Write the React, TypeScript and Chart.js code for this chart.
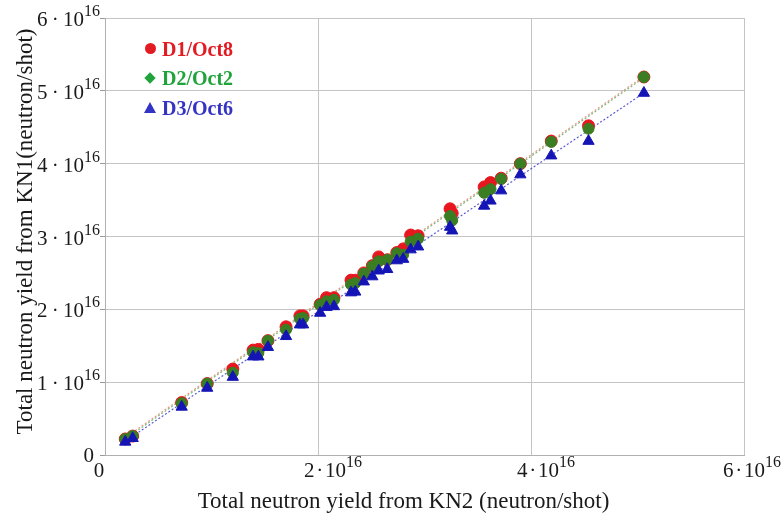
import React, { useEffect, useRef } from "react";
import { Chart, registerables } from "chart.js";

Chart.register(...registerables);

// Values in units of 10^16 neutrons/shot
const xKN2 = [0.19, 0.26, 0.72, 0.96, 1.2, 1.39, 1.44, 1.53, 1.7, 1.83, 1.86, 2.02, 2.08, 2.15, 2.31, 2.35, 2.43, 2.51, 2.57, 2.65, 2.74, 2.8, 2.87, 2.94, 3.24, 3.26, 3.56, 3.62, 3.72, 3.9, 4.19, 4.54, 5.06];
const yD1 = [0.22, 0.26, 0.72, 0.98, 1.18, 1.44, 1.45, 1.57, 1.76, 1.91, 1.91, 2.07, 2.16, 2.16, 2.4, 2.4, 2.5, 2.6, 2.72, 2.68, 2.78, 2.83, 3.02, 3.01, 3.38, 3.32, 3.68, 3.74, 3.8, 4.0, 4.31, 4.52, 5.19];
const yD2 = [0.22, 0.26, 0.71, 0.98, 1.13, 1.41, 1.4, 1.57, 1.72, 1.87, 1.88, 2.06, 2.11, 2.13, 2.34, 2.36, 2.49, 2.59, 2.66, 2.68, 2.77, 2.75, 2.93, 2.97, 3.28, 3.22, 3.6, 3.65, 3.79, 4.0, 4.3, 4.48, 5.19];
const yD3 = [0.18, 0.23, 0.66, 0.92, 1.07, 1.35, 1.35, 1.48, 1.63, 1.79, 1.79, 1.95, 2.03, 2.04, 2.23, 2.24, 2.38, 2.45, 2.53, 2.55, 2.67, 2.69, 2.82, 2.86, 3.13, 3.08, 3.42, 3.49, 3.63, 3.85, 4.11, 4.31, 4.97];

// Linear-fit lines (end points)
const fitX = [0.19, 5.06];
const fitD1 = [0.24, 5.2];
const fitD2 = [0.22, 5.18];
const fitD3 = [0.19, 4.97];

const xTicks = [0, 2, 4, 6];
const yTicks = [0, 1, 2, 3, 4, 5, 6];
const EXP = "16";
const seriesNames = ["D1/Oct8", "D2/Oct2", "D3/Oct6"];
const xTitle = "Total neutron yield from KN2 (neutron/shot)";
const yTitle = "Total neutron yield from KN1(neutron/shot)";

const SERIF = "'Liberation Serif', 'Times New Roman', serif";

const pts = (xs: number[], ys: number[]) => xs.map((x, i) => ({ x, y: ys[i] }));

const labelPlugin = {
  id: "mathLabels",
  afterDraw(chart: any) {
    const ctx = chart.ctx as CanvasRenderingContext2D;
    const xs = chart.scales.x;
    const ys = chart.scales.y;
    const base = `21px ${SERIF}`;
    const sup = `16px ${SERIF}`;
    const title = `23px ${SERIF}`;
    ctx.save();
    ctx.fillStyle = "#1a1a1a";
    ctx.textBaseline = "alphabetic";
    // y tick labels
    yTicks.forEach((v) => {
      const py = ys.getPixelForValue(v);
      if (v === 0) {
        ctx.font = base;
        ctx.textAlign = "right";
        ctx.fillText("0", xs.left - 11, py + 7);
        return;
      }
      const b = `${v}\u2009·\u200910`;
      ctx.font = sup;
      const sw = ctx.measureText(EXP).width;
      ctx.font = base;
      const bw = ctx.measureText(b).width;
      const right = xs.left - 5;
      ctx.textAlign = "left";
      ctx.fillText(b, right - sw - bw, py + 8);
      ctx.font = sup;
      ctx.fillText(EXP, right - sw, py - 2);
    });
    // x tick labels
    const by = ys.bottom + 22;
    const W = chart.width;
    xTicks.forEach((v) => {
      const px = xs.getPixelForValue(v);
      if (v === 0) {
        ctx.font = base;
        ctx.textAlign = "center";
        ctx.fillText("0", px - 6, by);
        return;
      }
      const b = `${v}\u200a·\u200a10`;
      ctx.font = sup;
      const sw = ctx.measureText(EXP).width;
      ctx.font = base;
      ctx.textAlign = "left";
      const bw = ctx.measureText(b).width;
      const sx = Math.min(px - 14, W - 2 - bw - sw);
      ctx.fillText(b, sx, by);
      ctx.font = sup;
      ctx.fillText(EXP, sx + bw, by - 10);
    });
    // axis titles
    ctx.font = title;
    ctx.textAlign = "center";
    ctx.fillText(xTitle, (xs.left + xs.right) / 2 - 21, ys.bottom + 53);
    ctx.save();
    ctx.translate(32, (ys.top + ys.bottom) / 2 - 5);
    ctx.rotate(-Math.PI / 2);
    ctx.fillText(yTitle, 0, 0);
    ctx.restore();
    ctx.restore();
  },
};

export default function App() {
  const ref = useRef<HTMLCanvasElement>(null);

  useEffect(() => {
    document.body.style.margin = "0";
    const canvas = ref.current!;
    const grid = { color: "#c4c4c4", lineWidth: 1 };
    const chart = new Chart(canvas, {
      type: "scatter",
      data: {
        datasets: [
          {
            label: seriesNames[2],
            data: pts(xKN2, yD3),
            pointStyle: "triangle",
            pointRadius: 6.5,
            backgroundColor: "#1515b5",
            borderColor: "#1515b5",
            borderWidth: 1,
            order: 0,
          },
          {
            label: seriesNames[1],
            data: pts(xKN2, yD2),
            pointStyle: "circle",
            pointRadius: 5.5,
            backgroundColor: "#3b7d22",
            borderColor: "#3b7d22",
            borderWidth: 1,
            order: 1,
          },
          {
            label: seriesNames[0],
            data: pts(xKN2, yD1),
            pointStyle: "circle",
            pointRadius: 6,
            backgroundColor: "#e8161e",
            borderColor: "#e8161e",
            borderWidth: 1,
            order: 2,
          },
          {
            label: "fit D3",
            data: pts(fitX, fitD3),
            showLine: true,
            pointRadius: 0,
            borderColor: "#5a5ad8",
            borderWidth: 1.2,
            borderDash: [2, 2],
            order: 3,
          },
          {
            label: "fit D2",
            data: pts(fitX, fitD2),
            showLine: true,
            pointRadius: 0,
            borderColor: "#7dba7d",
            borderWidth: 1.2,
            borderDash: [2, 2],
            order: 4,
          },
          {
            label: "fit D1",
            data: pts(fitX, fitD1),
            showLine: true,
            pointRadius: 0,
            borderColor: "#e89a8a",
            borderWidth: 1.2,
            borderDash: [2, 2],
            order: 5,
          },
        ],
      },
      options: {
        responsive: false,
        animation: false,
        layout: { padding: { top: 18, right: 39, left: 0, bottom: 0 } },
        plugins: { legend: { display: false }, tooltip: { enabled: false } },
        scales: {
          x: {
            type: "linear",
            min: 0,
            max: 6,
            ticks: { stepSize: 2, display: false },
            grid: { ...grid, drawTicks: false },
            border: { display: true, color: "#b0b0b0" },
            afterFit: (s: any) => {
              s.height = 63;
            },
          },
          y: {
            type: "linear",
            min: 0,
            max: 6,
            ticks: { stepSize: 1, display: false },
            grid: { ...grid, drawTicks: true, tickLength: 5, tickColor: "#9a9a9a" },
            border: { display: true, color: "#b0b0b0" },
            afterFit: (s: any) => {
              s.width = 105;
            },
          },
        },
      },
      plugins: [labelPlugin],
    } as any);
    return () => chart.destroy();
  }, []);

  const legendColors = ["#e21b23", "#1fa33a", "#3434c4"];
  const marker = (i: number) => {
    if (i === 0)
      return <div style={{ width: 11, height: 11, borderRadius: "50%", background: legendColors[0] }} />;
    if (i === 1)
      return <div style={{ width: 8, height: 8, margin: "0 1.5px", background: legendColors[1], transform: "rotate(45deg)" }} />;
    return (
      <div
        style={{
          width: 0,
          height: 0,
          borderLeft: "6px solid transparent",
          borderRight: "6px solid transparent",
          borderBottom: `11px solid ${legendColors[2]}`,
        }}
      />
    );
  };

  return (
    <div style={{ position: "relative", width: 783, height: 518, background: "#fff" }}>
      <canvas ref={ref} width={783} height={518} style={{ display: "block" }} />
      <div style={{ position: "absolute", left: 142, top: 34 }}>
        {seriesNames.map((n, i) => (
          <div key={n} style={{ display: "flex", alignItems: "center", height: 29.5 }}>
            <div style={{ width: 16, display: "flex", justifyContent: "center" }}>{marker(i)}</div>
            <span
              style={{
                marginLeft: 4,
                font: `bold 20px ${SERIF}`,
                color: legendColors[i],
                lineHeight: "24px",
              }}
            >
              {n}
            </span>
          </div>
        ))}
      </div>
    </div>
  );
}
